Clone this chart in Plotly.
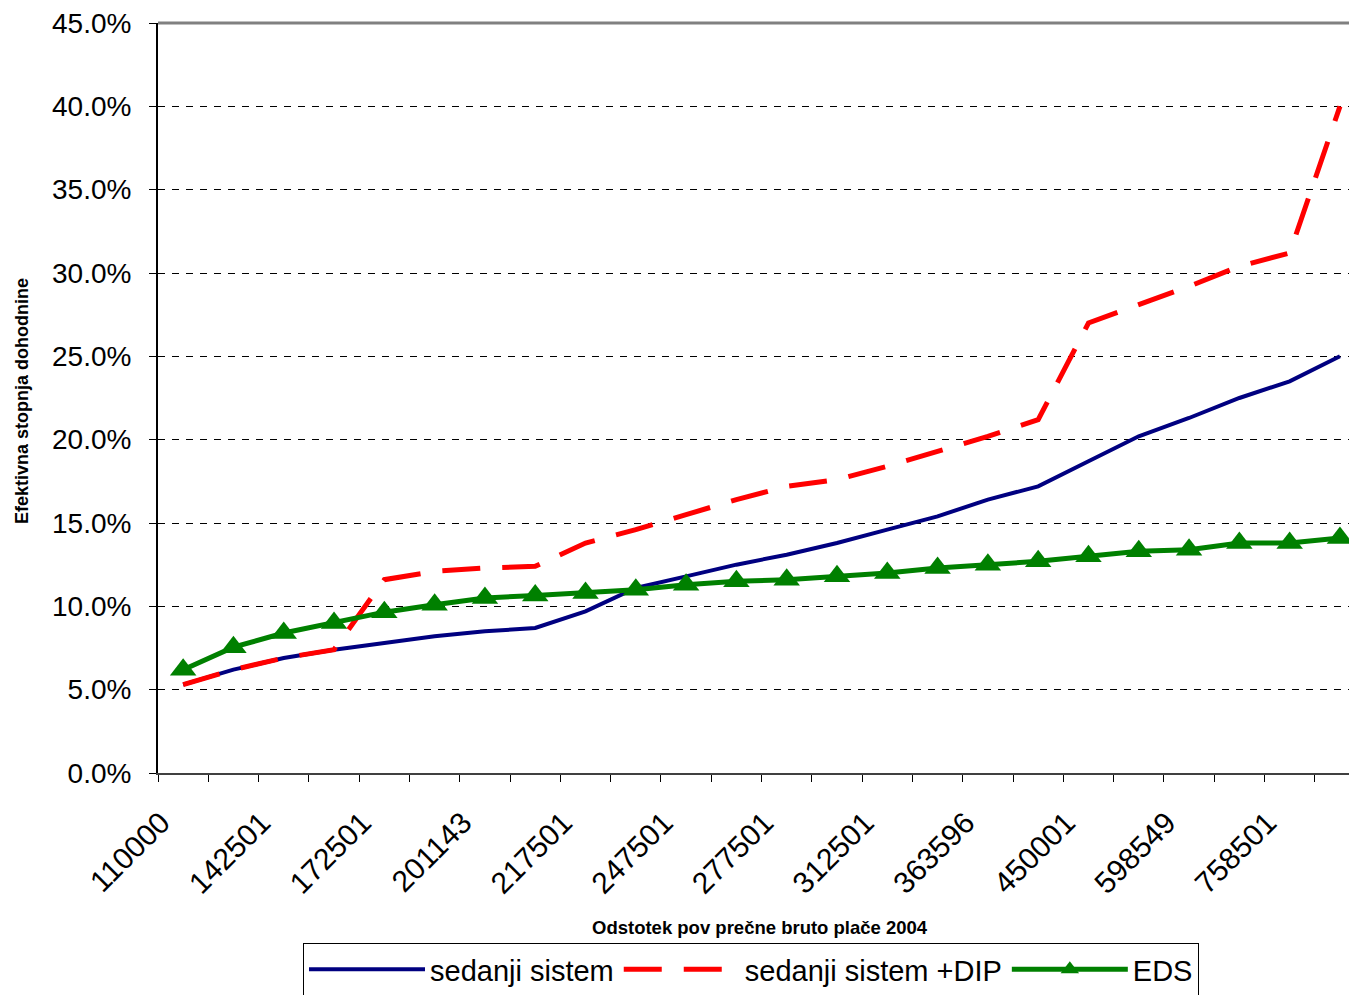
import plotly.graph_objects as go

# ---- data ----
tick_labels = ["110000", "142501", "172501", "201143", "217501", "247501",
               "277501", "312501", "363596", "450001", "598549", "758501"]
n_cat = 24
categories = list(range(n_cat))

sedanji = [5.3, 6.2, 6.9, 7.4, 7.8, 8.2, 8.5, 8.7, 9.7, 11.1, 11.8, 12.5,
           13.1, 13.8, 14.6, 15.4, 16.4, 17.2, 18.7, 20.2, 21.3, 22.5, 23.5, 25.0]
sedanji_dip = [5.3, 6.2, 6.9, 7.4, 11.6, 12.1, 12.3, 12.4, 13.8, 14.6, 15.5, 16.4,
               17.2, 17.6, 18.4, 19.3, 20.2, 21.2, 27.0, 28.1, 29.2, 30.4, 31.2, 40.0]
eds = [6.2, 7.55, 8.4, 9.0, 9.65, 10.1, 10.5, 10.65, 10.8, 11.0, 11.3, 11.5,
       11.6, 11.8, 12.0, 12.3, 12.5, 12.7, 13.0, 13.3, 13.4, 13.8, 13.8, 14.1]

y_ticks = [0, 5, 10, 15, 20, 25, 30, 35, 40, 45]
y_tick_text = [f"{v:.1f}%" for v in y_ticks]

x_title = "Odstotek pov prečne bruto plače 2004"
y_title = "Efektivna stopnja dohodnine"

FONT = "Liberation Sans, Arial, sans-serif"

fig = go.Figure()
fig.add_trace(go.Scatter(x=categories, y=sedanji, mode="lines", name="sedanji sistem",
                         line=dict(color="#000080", width=4)))
fig.add_trace(go.Scatter(x=categories, y=sedanji_dip, mode="lines", name="sedanji sistem +DIP",
                         line=dict(color="#FF0000", width=5, dash="38px,22px")))
fig.add_trace(go.Scatter(x=categories, y=eds, mode="lines+markers", name="EDS",
                         line=dict(color="#008000", width=5),
                         marker=dict(symbol="triangle-up", size=23, color="#008000")))

fig.update_layout(
    width=1349, height=995,
    margin=dict(l=158, r=0, t=23, b=222, autoexpand=False),
    paper_bgcolor="white", plot_bgcolor="white",
    font=dict(family=FONT, color="black"),
    showlegend=True,
    legend=dict(orientation="h", x=(303 - 158) / 1191, y=(773 - 943) / 750,
                xanchor="left", yanchor="top",
                bordercolor="black", borderwidth=1,
                font=dict(size=29, family=FONT), itemwidth=116,
                tracegroupgap=0),
)

fig.update_xaxes(
    range=[-0.5, 23.18],
    automargin=False,
    tickmode="array",
    tickvals=categories[::2],
    ticktext=tick_labels,
    tickangle=-45,
    ticks="",
    ticklabelstandoff=18,
    ticklabelshift=-22,
    tickfont=dict(size=30, family=FONT),
    showgrid=False, zeroline=False,
    showline=True, linecolor="#404040", linewidth=2,
    minor=dict(tickmode="array", tickvals=[i - 0.5 for i in range(n_cat + 1)],
               ticks="outside", ticklen=7, tickcolor="black", tickwidth=1, showgrid=False),
)

fig.update_yaxes(
    range=[0, 45],
    automargin=False,
    tickmode="array", tickvals=y_ticks, ticktext=y_tick_text,
    ticks="outside", ticklen=7, tickcolor="black",
    ticklabelstandoff=12,
    tickfont=dict(size=28, family=FONT),
    showgrid=True, gridcolor="black", gridwidth=1, griddash="7px,7px",
    zeroline=False,
    showline=True, linecolor="black", linewidth=2,
)

# axis titles
fig.add_annotation(text=f"<b>{x_title}</b>", xref="paper", yref="paper",
                   x=(760 - 158) / 1191, y=(773 - 928) / 750,
                   xanchor="center", yanchor="middle", showarrow=False,
                   font=dict(size=18.5, family=FONT))
fig.add_annotation(text=f"<b>{y_title}</b>", xref="paper", yref="paper",
                   x=(22 - 158) / 1191, y=(773 - 401) / 750, textangle=-90,
                   xanchor="center", yanchor="middle", showarrow=False,
                   font=dict(size=18, family=FONT))

# plot-area top border (grey)
fig.add_shape(type="line", xref="paper", yref="paper", x0=0, x1=1, y0=1, y1=1,
              line=dict(color="#808080", width=3), layer="above")

fig.write_html("out.html",
               config={"displayModeBar": False},
               post_script="document.body.style.margin='0';document.body.style.overflow='hidden';")
